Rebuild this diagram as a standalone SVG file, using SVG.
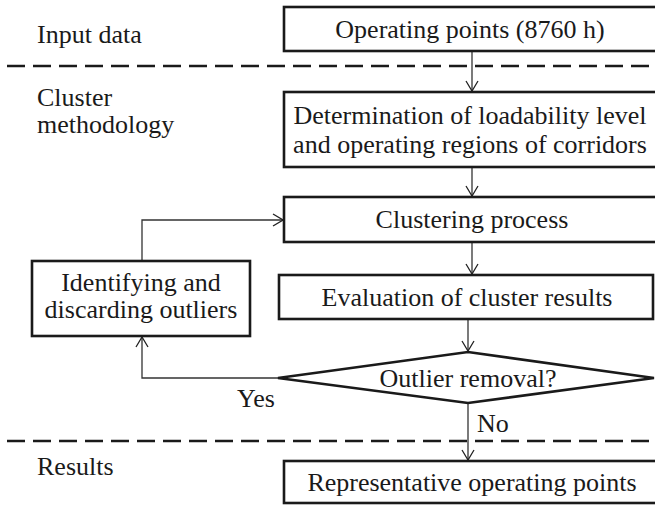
<svg xmlns="http://www.w3.org/2000/svg" width="655" height="506" viewBox="0 0 655 506">
<defs>
<marker id="arr" markerUnits="userSpaceOnUse" markerWidth="12" markerHeight="14" viewBox="0 0 12 14" refX="11" refY="7" orient="auto">
<path d="M1,1 L11,7 L1,13" fill="none" stroke="#222" stroke-width="1.3"/>
</marker>
<style>
.box{fill:#fff;stroke:#1a1a1a;stroke-width:2.6}
.t{font-family:"Liberation Serif","Times New Roman",serif;font-size:26px;fill:#1a1a1a}
.c{text-anchor:middle}
.con{fill:none;stroke:#333;stroke-width:1.3}
.dash{stroke:#1a1a1a;stroke-width:2.6;stroke-dasharray:18 8}
</style>
</defs>
<rect width="655" height="506" fill="#fff"/>
<g id="separators">
<line class="dash" x1="7" y1="66" x2="655" y2="66"/>
<line class="dash" x1="7" y1="441" x2="655" y2="441"/>
</g>
<g id="labels">
<text class="t" x="37" y="43">Input data</text>
<text class="t" x="37" y="106">Cluster</text>
<text class="t" x="37" y="133">methodology</text>
<text class="t" x="37" y="475">Results</text>
</g>
<g id="connectors">
<line class="con" x1="472" y1="51" x2="472" y2="91" marker-end="url(#arr)"/>
<line class="con" x1="472" y1="167" x2="472" y2="196" marker-end="url(#arr)"/>
<line class="con" x1="472" y1="242" x2="472" y2="274" marker-end="url(#arr)"/>
<line class="con" x1="468" y1="319" x2="468" y2="351" marker-end="url(#arr)"/>
<line class="con" x1="468" y1="403" x2="468" y2="460" marker-end="url(#arr)"/>
<polyline class="con" points="278,378 142,378 142,337" marker-end="url(#arr)"/>
<polyline class="con" points="142,261 142,220 283,220" marker-end="url(#arr)"/>
<text class="t" x="237" y="407">Yes</text>
<text class="t" x="477" y="432">No</text>
</g>
<g id="n1">
<rect class="box" x="284" y="7" width="380" height="44"/>
<text class="t c" x="470" y="38">Operating points (8760 h)</text>
</g>
<g id="n2">
<rect class="box" x="284" y="92" width="380" height="75"/>
<text class="t c" x="470" y="124">Determination of loadability level</text>
<text class="t c" x="470" y="153">and operating regions of corridors</text>
</g>
<g id="n3">
<rect class="box" x="284" y="197" width="380" height="45"/>
<text class="t c" x="472" y="228">Clustering process</text>
</g>
<g id="n4">
<rect class="box" x="279" y="275" width="374" height="44"/>
<text class="t c" x="467" y="306">Evaluation of cluster results</text>
</g>
<g id="n5">
<rect class="box" x="32" y="261" width="218" height="75"/>
<text class="t c" x="141" y="291">Identifying and</text>
<text class="t c" x="141" y="318">discarding outliers</text>
</g>
<g id="n6">
<polygon class="box" points="278,378 468,352 654,378 468,403"/>
<text class="t c" x="468" y="387">Outlier removal?</text>
</g>
<g id="n7">
<rect class="box" x="284" y="461" width="380" height="42"/>
<text class="t c" x="472" y="491">Representative operating points</text>
</g>
</svg>
